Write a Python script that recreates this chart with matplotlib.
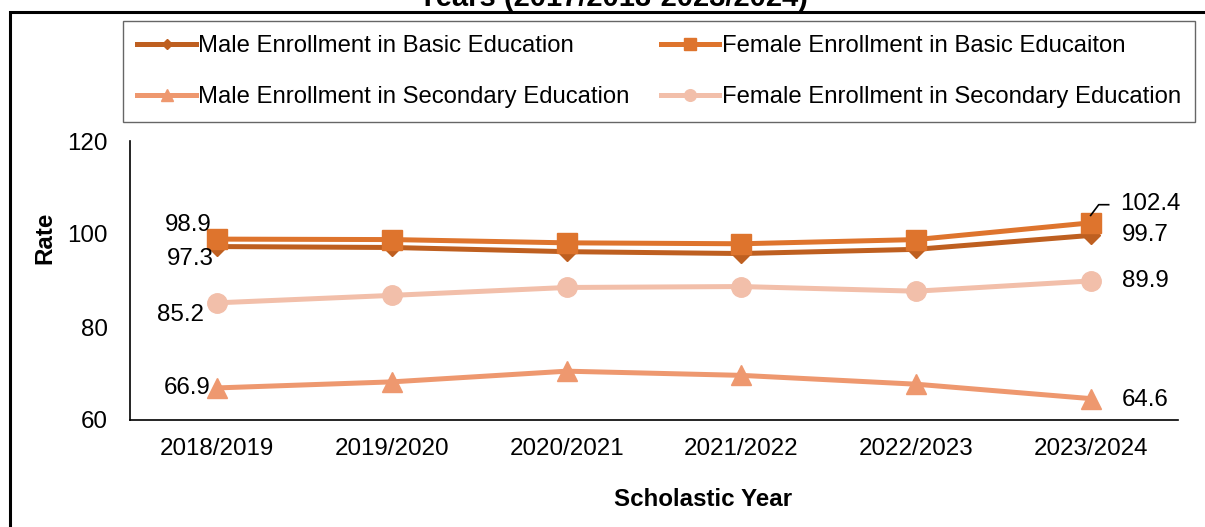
import matplotlib
matplotlib.use("Agg")
import matplotlib.pyplot as plt
from matplotlib.patches import Rectangle

plt.rcParams['font.family'] = ['Liberation Sans', 'DejaVu Sans']

years = ['2018/2019', '2019/2020', '2020/2021', '2021/2022', '2022/2023', '2023/2024']
male_basic = [97.3, 97.1, 96.2, 95.8, 96.7, 99.7]
female_basic = [98.9, 98.8, 98.1, 97.9, 98.8, 102.4]
male_secondary = [66.9, 68.2, 70.5, 69.6, 67.7, 64.6]
female_secondary = [85.2, 86.8, 88.5, 88.7, 87.7, 89.9]

labels = ['Male Enrollment in Basic Education', 'Female Enrollment in Basic Educaiton',
          'Male Enrollment in Secondary Education', 'Female Enrollment in Secondary Education']
colors = ['#BE5F20', '#DE742D', '#EE986F', '#F2BFAA']

W, H = 1205, 527
fig = plt.figure(figsize=(W / 100, H / 100), dpi=100)

# outer chart frame (right and bottom edges fall outside the image)
fig.patches.append(Rectangle((10 / W, -0.1), 1.2, 1 - 12 / H + 0.1, transform=fig.transFigure,
                             fill=False, edgecolor='black', linewidth=2.2))

# title, cut off by the top edge
fig.text(613 / W, 1 - 6 / H, 'Years (2017/2018-2023/2024)', ha='center', va='baseline',
         fontsize=21, fontweight='bold')

ax = fig.add_axes([130 / W, 1 - 420 / H, 1048 / W, 279 / H])
x = list(range(len(years)))

l0, = ax.plot(x, male_basic, color=colors[0], lw=3.6, marker='D', ms=9, label=labels[0])
l1, = ax.plot(x, female_basic, color=colors[1], lw=3.6, marker='s', ms=14, label=labels[1])
l2, = ax.plot(x, male_secondary, color=colors[2], lw=3.6, marker='^', ms=15, label=labels[2])
l3, = ax.plot(x, female_secondary, color=colors[3], lw=3.6, marker='o', ms=14, label=labels[3])

fs = 17.4
ax.set_xlim(-0.5, 5.5)
ax.set_ylim(60, 120)
ax.set_yticks([60, 80, 100, 120])
ax.set_xticks(x)
ax.set_xticklabels(years)
ax.tick_params(length=0, labelsize=fs, pad=13)
ax.tick_params(axis='y', pad=16)
for s in ['top', 'right']:
    ax.spines[s].set_visible(False)
ax.spines['left'].set_linewidth(1.2)
ax.spines['bottom'].set_linewidth(1.2)

# data labels at first and last points
def label(i, vals, dx, dy):
    ax.annotate(f'{vals[i]}', (i, vals[i]), xytext=(dx, dy), textcoords='offset points',
                ha='center', va='center', fontsize=fs)

label(0, female_basic, -21, 10)
label(0, male_basic, -19.5, -9)
label(0, female_secondary, -26.6, -8.6)
label(0, male_secondary, -22, 0)
label(5, female_basic, 43, 13.4)
label(5, male_basic, 39, 0)
label(5, female_secondary, 39.5, 0)
label(5, male_secondary, 39.5, -1)
# leader line for 102.4
ax.plot([5.0, 5.046, 5.103], [female_basic[-1] + 1.6, female_basic[-1] + 3.9, female_basic[-1] + 3.9],
        color='black', lw=1.2)

fig.text(45 / W, 1 - 238 / H, 'Rate', rotation=90, ha='center', va='center',
         fontsize=fs, fontweight='bold')
fig.text(703 / W, 1 - 500 / H, 'Scholastic Year', ha='center', va='center', fontsize=fs, fontweight='bold')

# row-wise order: column 1 holds the male series, column 2 the female series
leg = fig.legend([l0, l2, l1, l3], [labels[0], labels[2], labels[1], labels[3]],
                 loc='upper left', bbox_to_anchor=(123 / W, 1 - 21 / H),
                 ncol=2, fontsize=17.2, frameon=True, fancybox=False,
                 handlelength=2.45, handletextpad=0.1, borderpad=0.6, labelspacing=1.2,
                 columnspacing=1.3, markerscale=0.6, borderaxespad=0)
leg.get_frame().set_edgecolor('#404040')
leg.get_frame().set_linewidth(1.0)

fig.savefig('out.png', dpi=100)
